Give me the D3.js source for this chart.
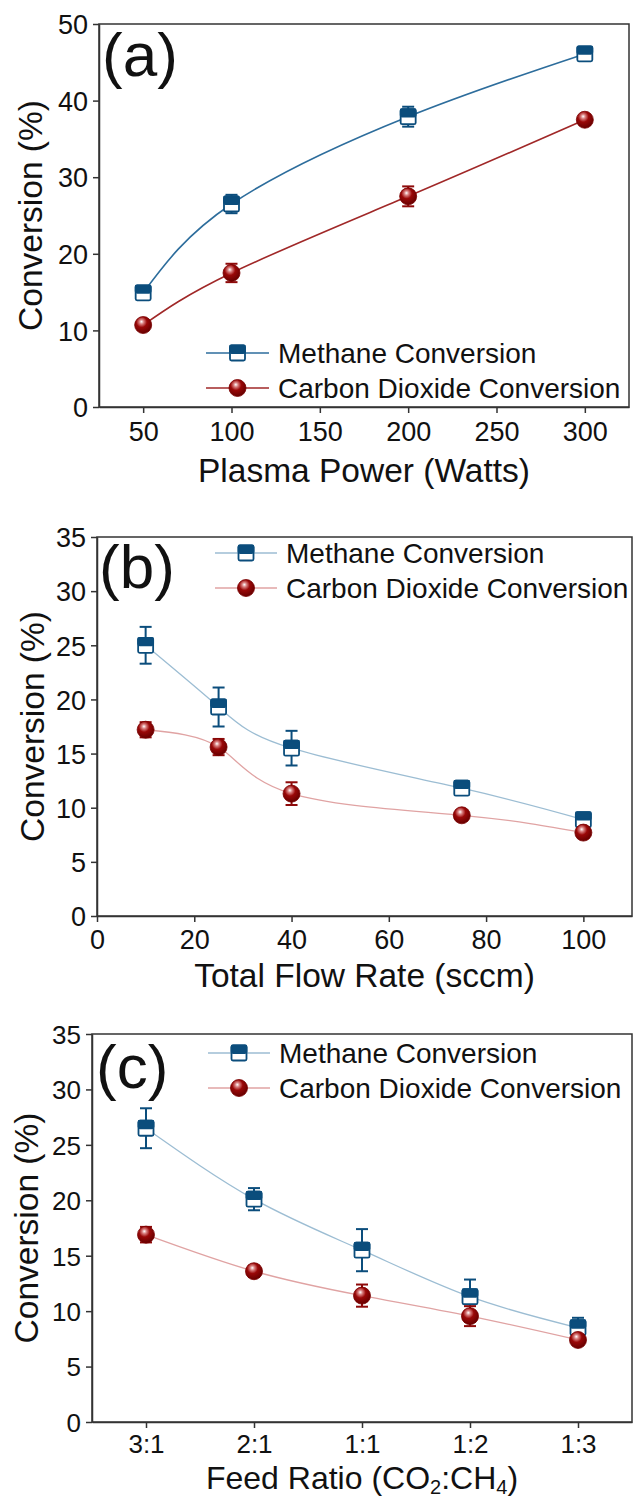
<!DOCTYPE html>
<html><head><meta charset="utf-8">
<script src="https://cdn.jsdelivr.net/npm/d3@7"></script>
<style>body{margin:0;background:#fff}svg{display:block}text{font-family:"Liberation Sans",Arial,sans-serif;fill:#111}</style>
</head><body><svg id="c" width="633" height="1500"></svg>
<script>
// ---- data ----
const seriesNames = ["Methane Conversion", "Carbon Dioxide Conversion"];
// (a) plasma power
const powerX = [50, 100, 200, 300];
const powerTicks = [50, 100, 150, 200, 250, 300];
const powerCH4 = [14.9, 26.5, 37.9, 46.1];
const powerCH4Err = [0.6, 1.2, 1.3, 0.5];
const powerCO2 = [10.7, 17.5, 27.5, 37.5];
const powerCO2Err = [0.5, 1.2, 1.3, 0.6];
// (b) total flow rate
const flowX = [10, 25, 40, 75, 100];
const flowTicks = [0, 20, 40, 60, 80, 100];
const flowCH4 = [25.0, 19.3, 15.5, 11.8, 8.9];
const flowCH4Err = [1.7, 1.8, 1.6, 0.4, 0.4];
const flowCO2 = [17.2, 15.6, 11.3, 9.3, 7.7];
const flowCO2Err = [0.7, 0.75, 1.05, 0.3, 0.3];
// (c) feed ratio
const ratioCats = ["3:1", "2:1", "1:1", "1:2", "1:3"];
const ratioCH4 = [26.5, 20.1, 15.5, 11.3, 8.5];
const ratioCH4Err = [1.8, 1.0, 1.9, 1.55, 0.9];
const ratioCO2 = [16.9, 13.6, 11.4, 9.55, 7.4];
const ratioCO2Err = [0.7, 0.5, 1.0, 0.9, 0.4];
const yTicksA = [0, 10, 20, 30, 40, 50];
const yTicksBC = [0, 5, 10, 15, 20, 25, 30, 35];

const svg = d3.select("#c");
const defs = svg.append("defs");
const grad = defs.append("radialGradient").attr("id", "ball").attr("cx", "42%").attr("cy", "35%").attr("r", "65%").attr("fx", "40%").attr("fy", "30%");
grad.append("stop").attr("offset", "0%").attr("stop-color", "#ffffff");
grad.append("stop").attr("offset", "20%").attr("stop-color", "#d98080");
grad.append("stop").attr("offset", "48%").attr("stop-color", "#9a0808");
grad.append("stop").attr("offset", "100%").attr("stop-color", "#660000");

const blue = "#0b4d7c", red = "#8e0a0a";
const FONT = '"Liberation Sans",Arial,sans-serif';

const panels = [
  {letter: "(a)", L: 99, R: 629, T: 24, B: 407, xd: [25, 325], yd: [0, 50], xt: powerTicks, xl: d => d, yt: yTicksA,
   xs: powerX, ch4: powerCH4, ch4e: powerCH4Err, co2: powerCO2, co2e: powerCO2Err,
   lineC1: "#2d6d9c", lineC2: "#a02828", lw: 1.6, tickFs: 27, tickY: 34, titleFs: 33.5,
   title: "Plasma Power (Watts)", titleY: 482, ylabX: 42,
   letterX: 102, letterY: 76, leg: {x1: 206, x2: 269, y: 353, dy: 35, tx: 278}},
  {letter: "(b)", L: 97, R: 632, T: 537, B: 916, xd: [0, 110], yd: [0, 35], xt: flowTicks, xl: d => d, yt: yTicksBC,
   xs: flowX, ch4: flowCH4, ch4e: flowCH4Err, co2: flowCO2, co2e: flowCO2Err,
   lineC1: "#9cbdd3", lineC2: "#e0a3a3", lw: 1.3, tickFs: 27, tickY: 33, titleFs: 33.5,
   title: "Total Flow Rate (sccm)", titleY: 987, ylabX: 44,
   letterX: 99, letterY: 588, leg: {x1: 215, x2: 277, y: 553, dy: 35, tx: 286}},
  {letter: "(c)", L: 92, R: 632, T: 1034, B: 1422, xd: [-0.5, 4.5], yd: [0, 35], xt: d3.range(ratioCats.length), xl: i => ratioCats[i], yt: yTicksBC,
   xs: d3.range(ratioCats.length), ch4: ratioCH4, ch4e: ratioCH4Err, co2: ratioCO2, co2e: ratioCO2Err,
   lineC1: "#9cbdd3", lineC2: "#e0a3a3", lw: 1.3, tickFs: 26, tickY: 31, titleFs: 32,
   title: null, titleY: 1489, ylabX: 38,
   letterX: 96, letterY: 1088, leg: {x1: 208, x2: 270, y: 1053, dy: 35, tx: 279}}
];

function square(g, x, y, s) {
  const h = s / 2;
  g.append("rect").attr("x", x - h).attr("y", y - h).attr("width", s).attr("height", s).attr("rx", 1.5)
    .attr("fill", "#fff").attr("stroke", blue).attr("stroke-width", 1.8);
  g.append("rect").attr("x", x - h).attr("y", y - h).attr("width", s).attr("height", h).attr("rx", 1.5)
    .attr("fill", blue).attr("stroke", blue).attr("stroke-width", 1.8);
}
function ball(g, x, y, r) {
  g.append("circle").attr("cx", x).attr("cy", y).attr("r", r).attr("fill", "url(#ball)").attr("stroke", "#7a0000").attr("stroke-width", 0.8);
}
function errbar(g, x, y1, y2, col) {
  g.append("line").attr("x1", x).attr("x2", x).attr("y1", y1).attr("y2", y2).attr("stroke", col).attr("stroke-width", 2);
  [y1, y2].forEach(yy => g.append("line").attr("x1", x - 6).attr("x2", x + 6).attr("y1", yy).attr("y2", yy).attr("stroke", col).attr("stroke-width", 2));
}

panels.forEach(p => {
  const g = svg.append("g");
  const x = d3.scaleLinear().domain(p.xd).range([p.L, p.R]);
  const y = d3.scaleLinear().domain(p.yd).range([p.B, p.T]);

  // frame
  g.append("rect").attr("x", p.L).attr("y", p.T).attr("width", p.R - p.L).attr("height", p.B - p.T)
    .attr("fill", "none").attr("stroke", "#333").attr("stroke-width", 1.5);

  // axes
  const xa = g.append("g").attr("transform", `translate(0,${p.B})`)
    .call(d3.axisBottom(x).tickValues(p.xt).tickFormat(p.xl).tickSize(6).tickSizeOuter(0));
  const ya = g.append("g").attr("transform", `translate(${p.L},0)`)
    .call(d3.axisLeft(y).tickValues(p.yt).tickSize(6).tickSizeOuter(0));
  [xa, ya].forEach(a => {
    a.select(".domain").attr("stroke", "#333").attr("stroke-width", 1.5);
    a.selectAll(".tick line").attr("stroke", "#333").attr("stroke-width", 1.5);
    a.selectAll(".tick text").attr("font-size", p.tickFs).attr("font-family", FONT).attr("fill", "#111");
  });
  xa.selectAll(".tick text").attr("dy", null).attr("y", p.tickY);
  ya.selectAll(".tick text").attr("x", -11).attr("dy", "0.36em");

  // lines
  const line = d3.line().x((d, i) => x(p.xs[i])).y(d => y(d)).curve(d3.curveNatural);
  g.append("path").attr("d", line(p.ch4)).attr("fill", "none").attr("stroke", p.lineC1).attr("stroke-width", p.lw);
  g.append("path").attr("d", line(p.co2)).attr("fill", "none").attr("stroke", p.lineC2).attr("stroke-width", p.lw);

  // methane markers
  p.ch4.forEach((v, i) => {
    const cx = x(p.xs[i]);
    errbar(g, cx, y(v + p.ch4e[i]), y(v - p.ch4e[i]), blue);
    square(g, cx, y(v), 15);
  });
  // CO2 markers
  p.co2.forEach((v, i) => {
    const cx = x(p.xs[i]);
    errbar(g, cx, y(v + p.co2e[i]), y(v - p.co2e[i]), red);
    ball(g, cx, y(v), 8.5);
  });

  // legend
  const lg = p.leg;
  const mx = (lg.x1 + lg.x2) / 2;
  g.append("line").attr("x1", lg.x1).attr("x2", lg.x2).attr("y1", lg.y).attr("y2", lg.y).attr("stroke", p.lineC1).attr("stroke-width", p.lw);
  square(g, mx, lg.y, 15);
  g.append("line").attr("x1", lg.x1).attr("x2", lg.x2).attr("y1", lg.y + lg.dy).attr("y2", lg.y + lg.dy).attr("stroke", p.lineC2).attr("stroke-width", p.lw);
  ball(g, mx, lg.y + lg.dy, 8.5);
  g.append("text").attr("x", lg.tx).attr("y", lg.y + 10).attr("font-size", 28).text(seriesNames[0]);
  g.append("text").attr("x", lg.tx).attr("y", lg.y + lg.dy + 10).attr("font-size", 28).text(seriesNames[1]);

  // panel letter
  g.append("text").attr("x", p.letterX).attr("y", p.letterY).attr("font-size", 62).text(p.letter);

  // axis titles
  const cx = (p.L + p.R) / 2, cy = (p.T + p.B) / 2;
  const xt = g.append("text").attr("x", cx).attr("y", p.titleY).attr("text-anchor", "middle").attr("font-size", p.titleFs);
  if (p.title) xt.text(p.title);
  else {
    xt.append("tspan").text("Feed Ratio (CO");
    xt.append("tspan").attr("font-size", 20).attr("dy", 5).text("2");
    xt.append("tspan").attr("dy", -5).text(":CH");
    xt.append("tspan").attr("font-size", 20).attr("dy", 5).text("4");
    xt.append("tspan").attr("dy", -5).text(")");
  }
  g.append("text").attr("transform", `translate(${p.ylabX},${cy}) rotate(-90)`).attr("text-anchor", "middle").attr("font-size", 33.5).text("Conversion (%)");
});
</script></body></html>
